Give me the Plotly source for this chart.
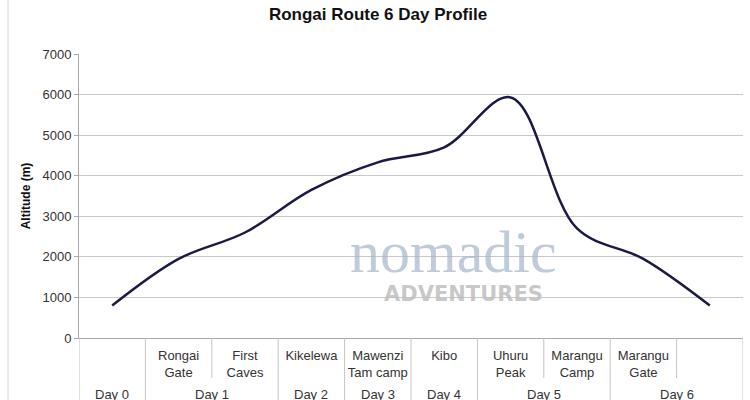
import plotly.graph_objects as go

# ---- data ----
days = ["Day 0", "Day 1", "Day 1", "Day 2", "Day 3", "Day 4", "Day 5", "Day 5", "Day 6", "Day 6"]
camps = ["", "Rongai<br>Gate", "First<br>Caves", "Kikelewa", "Mawenzi<br>Tam camp", "Kibo",
         "Uhuru<br>Peak", "Marangu<br>Camp", "Marangu<br>Gate", ""]
altitude_m = [800, 1950, 2600, 3650, 4330, 4700, 5930, 2700, 1950, 800]
y_ticks = [0, 1000, 2000, 3000, 4000, 5000, 6000, 7000]

FONT = "Liberation Sans, Arial, sans-serif"
W, H = 750, 400
L, R, T, B = 79, 7, 54, 62
PH = H - T - B  # plot height in px

keys = [f"{d}|{i}" for i, d in enumerate(days)]
n = len(keys)

fig = go.Figure()
fig.add_trace(go.Scatter(
    x=keys, y=altitude_m, mode="lines",
    line=dict(color="#1b1a44", width=2.5, shape="spline", smoothing=1),
    hoverinfo="skip", showlegend=False,
))
# invisible trace to carry gridlines on overlay axis
fig.add_trace(go.Scatter(x=keys, y=altitude_m, yaxis="y2", mode="lines",
                         line=dict(width=0), hoverinfo="skip", showlegend=False))

shapes = []
annotations = []
SEP = dict(color="#c4c4c4", width=1)
# separators: short inside a day, full height between days
for i in range(0, n + 1):
    full = i == 0 or i == n or days[i] != days[i - 1]
    shapes.append(dict(type="line", xref="x", yref="paper", x0=i - 0.5, x1=i - 0.5,
                       y0=0, y1=(-B / PH) if full else (-40 / PH), line=SEP))
# day labels centred under their group of camps
seen = []
for d in days:
    if d not in seen:
        seen.append(d)
for d in seen:
    idx = [i for i, dd in enumerate(days) if dd == d]
    annotations.append(dict(text=d, xref="x", yref="paper", x=sum(idx) / len(idx),
                            y=-56.5 / PH, yanchor="middle", showarrow=False,
                            font=dict(size=13, color="#333333")))
# outer chart border on the left
shapes.append(dict(type="line", xref="paper", yref="paper", x0=(8 - L) / (W - L - R), x1=(8 - L) / (W - L - R),
                   y0=-B / PH, y1=(H - B) / PH, line=dict(color="#d6d6d6", width=1)))

# watermark
annotations += [
    dict(text="nomadic", xref="paper", yref="paper", x=(453 - L) / (W - L - R),
         y=(H - B - 287) / PH, showarrow=False,
         font=dict(family="Liberation Serif, DejaVu Serif, serif", size=60, color="rgba(170,186,204,0.75)")),
    dict(text="<b>ADVENTURES</b>", xref="paper", yref="paper", x=(463 - L) / (W - L - R),
         y=(H - B - 308) / PH, showarrow=False,
         font=dict(family="DejaVu Sans, sans-serif", size=21, color="rgba(190,190,190,0.85)")),
]

fig.update_layout(
    width=W, height=H,
    margin=dict(l=L, r=R, t=T, b=B, autoexpand=False),
    paper_bgcolor="white", plot_bgcolor="white",
    font=dict(family=FONT, size=13, color="#333333"),
    title=dict(text="<b>Rongai Route 6 Day Profile</b>", x=(378) / W, xanchor="center",
               y=1 - 14 / H, yanchor="middle", font=dict(size=17, color="#111111")),
    xaxis=dict(type="category", showgrid=False, showline=True, linecolor="#a8a8a8",
               ticks="", tickvals=keys, ticktext=camps, ticklabelstandoff=5,
               tickfont=dict(size=13, color="#333333"), automargin=False, tickangle=0,
               range=[-0.5, n - 0.5]),
    yaxis=dict(range=[0, 7000], tickvals=y_ticks, showgrid=False, showline=True,
               linecolor="#a8a8a8", ticks="outside", ticklen=4, tickcolor="#a8a8a8",
               zeroline=False, automargin=False,
               title=dict(text="<b>Altitude (m)</b>", font=dict(size=12, color="#111111"), standoff=9)),
    yaxis2=dict(range=[0, 7000], tickvals=y_ticks[1:-1], overlaying="y", showgrid=True,
                gridcolor="#c8c8c8", gridwidth=1, showticklabels=False, zeroline=False,
                showline=False, ticks=""),
    shapes=shapes,
    annotations=annotations,
)
fig.write_html("out.html", config={"displayModeBar": False},
               post_script="document.body.style.margin='0';document.body.style.overflow='hidden';")
